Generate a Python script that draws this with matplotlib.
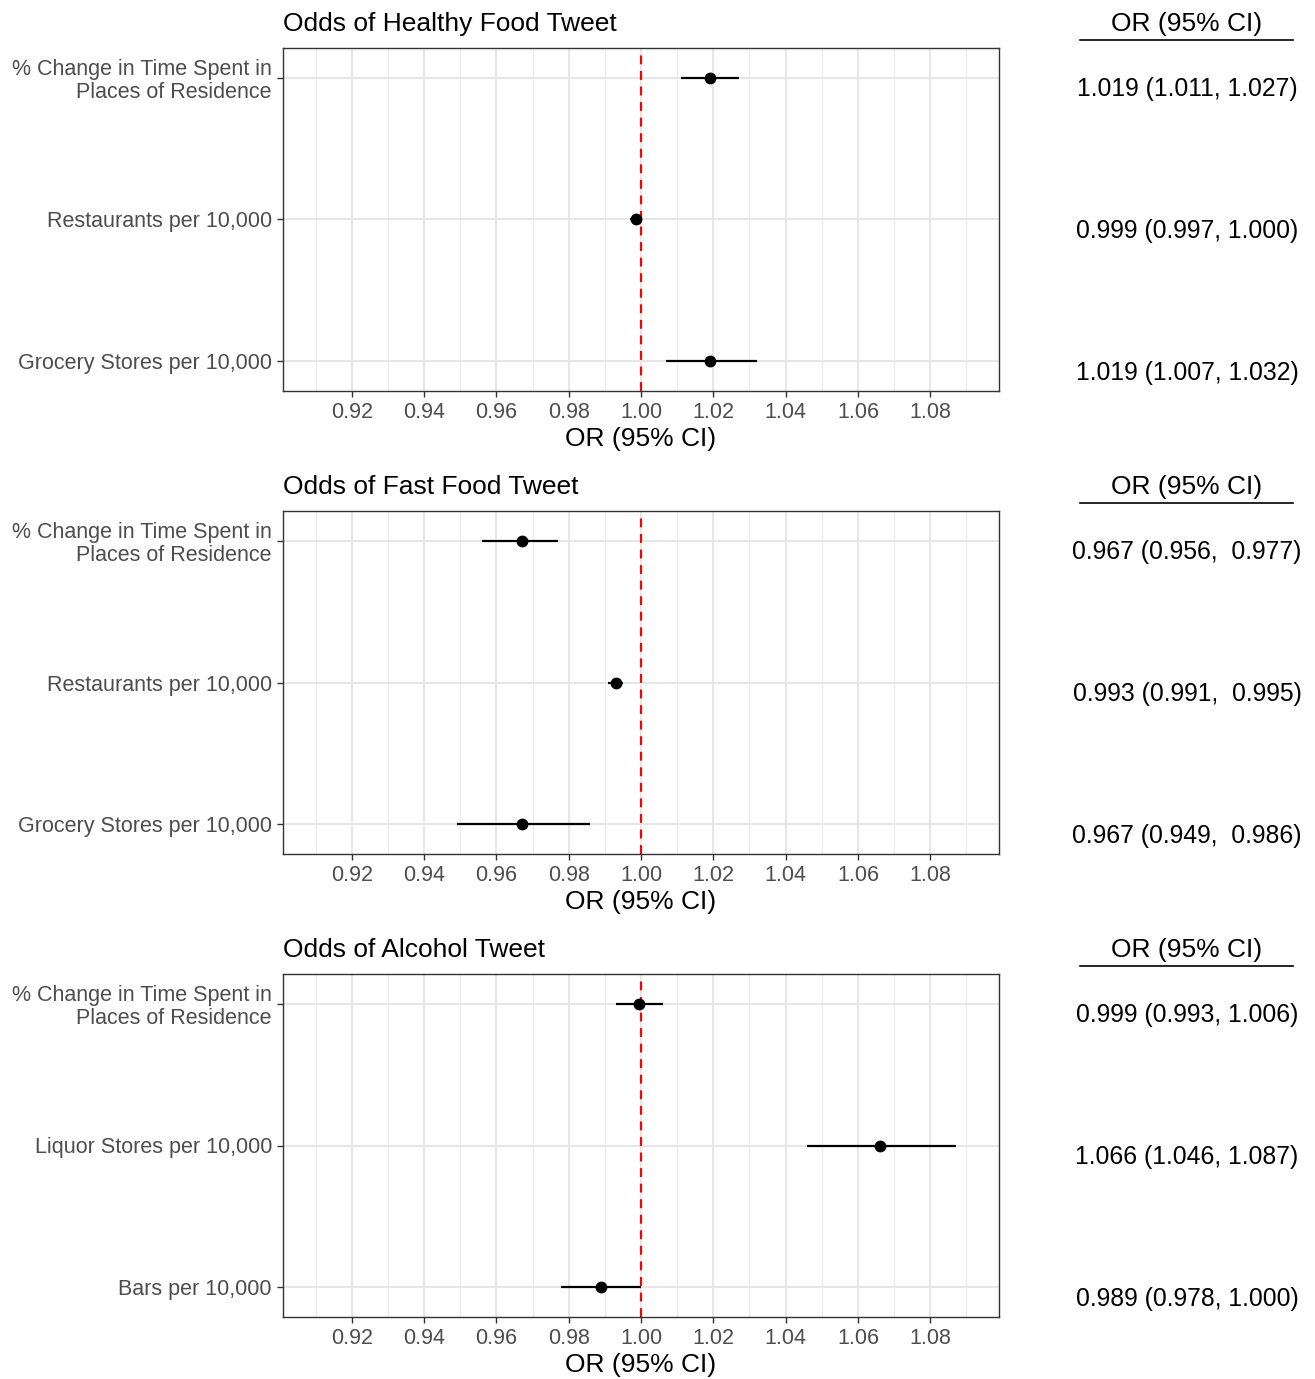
import matplotlib
matplotlib.use("Agg")
import matplotlib.pyplot as plt
import matplotlib.transforms as mtransforms
import numpy as np

plt.rcParams['font.family'] = ['Liberation Sans', 'DejaVu Sans']

titles = ["Odds of Healthy Food Tweet", "Odds of Fast Food Tweet", "Odds of Alcohol Tweet"]
labels = [
    ["% Change in Time Spent in\nPlaces of Residence", "Restaurants per 10,000", "Grocery Stores per 10,000"],
    ["% Change in Time Spent in\nPlaces of Residence", "Restaurants per 10,000", "Grocery Stores per 10,000"],
    ["% Change in Time Spent in\nPlaces of Residence", "Liquor Stores per 10,000", "Bars per 10,000"],
]
or_vals = [
    [1.019, 0.9986, 1.019],
    [0.967, 0.993, 0.967],
    [0.9995, 1.066, 0.989],
]
ci_low = [
    [1.011, 0.997, 1.007],
    [0.956, 0.991, 0.949],
    [0.993, 1.046, 0.978],
]
ci_high = [
    [1.027, 1.000, 1.032],
    [0.977, 0.995, 0.986],
    [1.006, 1.087, 1.000],
]
or_text = [
    ["1.019 (1.011, 1.027)", "0.999 (0.997, 1.000)", "1.019 (1.007, 1.032)"],
    ["0.967 (0.956,  0.977)", "0.993 (0.991,  0.995)", "0.967 (0.949,  0.986)"],
    ["0.999 (0.993, 1.006)", "1.066 (1.046, 1.087)", "0.989 (0.978, 1.000)"],
]
xticks = [0.92, 0.94, 0.96, 0.98, 1.00, 1.02, 1.04, 1.06, 1.08]
xminor = [0.91, 0.93, 0.95, 0.97, 0.99, 1.01, 1.03, 1.05, 1.07, 1.09]

W, H = 1315, 1379
fig = plt.figure(figsize=(W / 100, H / 100), dpi=100)

panel_tops = [48, 511, 974]
panel_h = 343
left_px, right_px = 283, 999

for i in range(3):
    top = panel_tops[i]
    ax = fig.add_axes([left_px / W, 1 - (top + panel_h) / H, (right_px - left_px) / W, panel_h / H])
    ys = np.arange(1, 4)
    ax.set_xlim(0.901, 1.099)
    ax.set_ylim(3.211, 0.789)
    ax.set_xticks(xticks)
    ax.set_xticklabels([f"{t:.2f}" for t in xticks])
    ax.set_xticks(xminor, minor=True)
    ax.set_yticks(ys)
    ax.set_yticklabels(labels[i])
    ax.grid(True, which='major', color='#E6E6E6', linewidth=1.4, zorder=0)
    ax.grid(True, which='minor', axis='x', color='#EBEBEB', linewidth=0.8, zorder=0)
    ax.set_axisbelow(True)
    for s in ax.spines.values():
        s.set_color('#333333')
        s.set_linewidth(1.0)
    ax.tick_params(axis='both', which='major', colors='#333333', length=4, width=1.0,
                   labelsize=15.5, labelcolor='#4D4D4D', pad=4)
    ax.tick_params(axis='x', which='minor', length=0)
    for lab in ax.get_yticklabels():
        lab.set_linespacing(1.1)
    ax.axvline(1.0, color='#FF0000', linestyle=(0, (4, 3)), linewidth=1.6, zorder=2)
    ax.hlines(ys, ci_low[i], ci_high[i], color='black', linewidth=1.6, zorder=3)
    ax.plot(or_vals[i], ys, 'o', color='black', markersize=7.5, zorder=4)
    ax.set_xlabel("OR (95% CI)", fontsize=19, color='black', labelpad=3)
    ax.set_title(titles[i], loc='left', fontsize=19, color='black', pad=12)

    # right-hand table
    yhead = 1 - (top - 24) / H
    fig.text(1187 / W, yhead, "OR (95% CI)", ha='center', va='center', fontsize=19, color='black')
    yline = 1 - (top - 8) / H
    fig.add_artist(plt.Line2D([1080 / W, 1293 / W], [yline, yline], color='black', linewidth=1.2,
                              transform=fig.transFigure))
    trans = mtransforms.blended_transform_factory(fig.transFigure, ax.transData) + \
        mtransforms.ScaledTranslation(0, -0.115, fig.dpi_scale_trans)
    for j in range(3):
        fig.text(1187 / W, ys[j], or_text[i][j], ha='center', va='center', fontsize=17.8,
                 color='black', transform=trans)

fig.savefig("out.png", dpi=100, facecolor='white')
